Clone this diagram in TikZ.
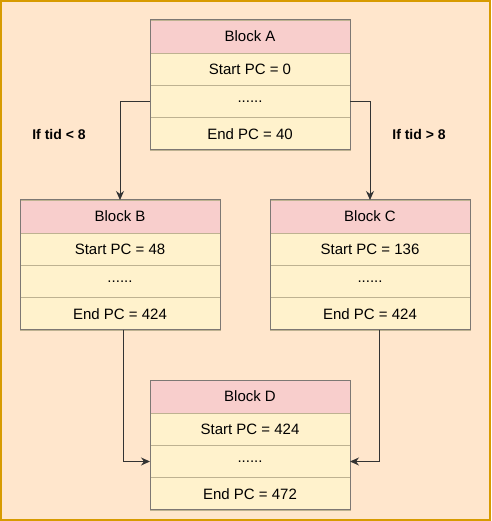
\documentclass[tikz,border=0pt]{standalone}
\usepackage{fontspec}
\setmainfont{Liberation Sans}
\usetikzlibrary{positioning,fit,arrows.meta}

\definecolor{pagefill}{RGB}{255,230,204}
\definecolor{pageline}{RGB}{215,155,0}
\definecolor{hdrfill}{RGB}{248,206,204}
\definecolor{rowfill}{RGB}{255,242,204}
\definecolor{rowline}{RGB}{190,178,145}
\definecolor{blkline}{RGB}{125,120,115}

\begin{document}
\begin{tikzpicture}[
     x=1pt,y=1pt,
     font=\fontsize{15}{17}\selectfont,
     hdr/.style={rectangle,draw=rowline,fill=hdrfill,minimum width=200pt,minimum height=33pt,inner sep=0pt,outer sep=0pt},
     row/.style={hdr,fill=rowfill,minimum height=32.33pt},
     blk/.style={rectangle,draw=blkline,line width=1pt,inner sep=0pt},
     cond/.style={font=\fontsize{14}{16}\selectfont\bfseries},
     flow/.style={draw=black!80,line width=1pt,-{Stealth[length=9pt,width=8pt]}}]

    % page
    \fill[pagefill] (0,0) rectangle (491,-521);
    \draw[pageline,line width=2pt] (1,-1) rectangle (490,-520);
    \useasboundingbox (0,0) rectangle (491,-521);

    \node[hdr] (hdrA) at (250,-36.5) {Block A};
    \node[row] (rowA1) [below=0pt of hdrA] {Start PC = 0};
    \node[row] (rowA2) [below=0pt of rowA1] {......};
    \node[row] (rowA3) [below=0pt of rowA2] {End PC = 40};
    \node[blk,fit=(hdrA) (rowA3)] (blockA) {};

    \node[hdr] (hdrB) at (120,-216.5) {Block B};
    \node[row] (rowB1) [below=0pt of hdrB] {Start PC = 48};
    \node[row] (rowB2) [below=0pt of rowB1] {......};
    \node[row] (rowB3) [below=0pt of rowB2] {End PC = 424};
    \node[blk,fit=(hdrB) (rowB3)] (blockB) {};

    \node[hdr] (hdrC) [right=50pt of hdrB] {Block C};
    \node[row] (rowC1) [below=0pt of hdrC] {Start PC = 136};
    \node[row] (rowC2) [below=0pt of rowC1] {......};
    \node[row] (rowC3) [below=0pt of rowC2] {End PC = 424};
    \node[blk,fit=(hdrC) (rowC3)] (blockC) {};

    \node[hdr] (hdrD) at (250,-396.5) {Block D};
    \node[row] (rowD1) [below=0pt of hdrD] {Start PC = 424};
    \node[row] (rowD2) [below=0pt of rowD1] {......};
    \node[row] (rowD3) [below=0pt of rowD2] {End PC = 472};
    \node[blk,fit=(hdrD) (rowD3)] (blockD) {};

    % branches
    \draw[flow] (rowA2.west) -| (hdrB.north);
    \draw[flow] (rowA2.east) -| (hdrC.north);
    \node[cond] (condB) at (59,-134) {If tid < 8};
    \node[cond] (condC) at (419,-134) {If tid > 8};

    % merge
    \draw[flow] ([xshift=3pt]rowB3.south) |- (rowD2.west);
    \draw[flow] ([xshift=9pt]rowC3.south) |- (rowD2.east);

\end{tikzpicture}
\end{document}
